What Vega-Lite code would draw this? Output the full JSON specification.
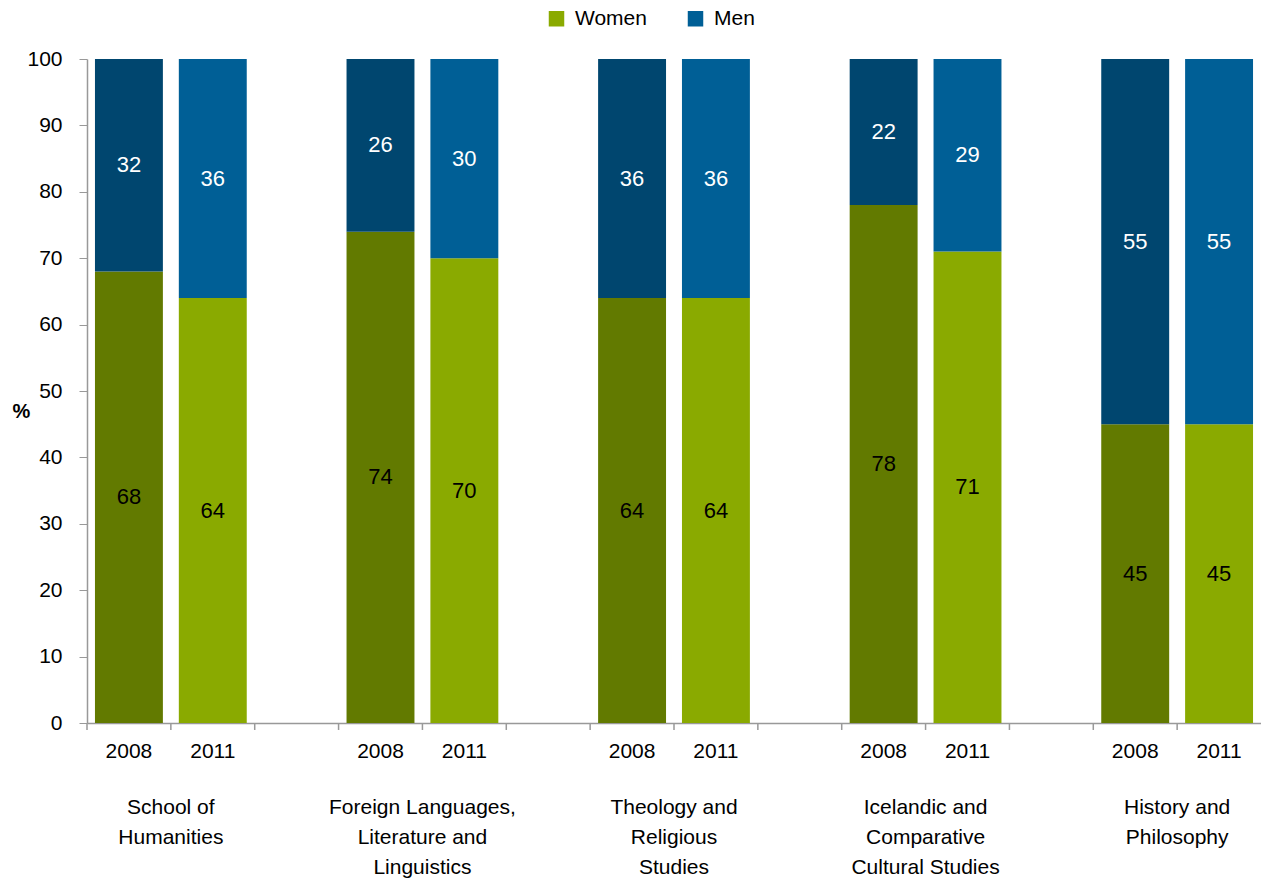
{
  "$schema": "https://vega.github.io/schema/vega-lite/v6.json",
  "width": 1174,
  "height": 664,
  "autosize": {"type": "none"},
  "padding": {"left": 87, "top": 59, "right": 0, "bottom": 160},
  "config": {
    "font": "Liberation Sans",
    "view": {"stroke": null}
  },
  "datasets": {
    "shares": [
      {"dept": "School of Humanities", "year": "2008", "slot": "School 2008", "sex": "Women", "series": "Women 2008", "pct": 68},
      {"dept": "School of Humanities", "year": "2008", "slot": "School 2008", "sex": "Men", "series": "Men 2008", "pct": 32},
      {"dept": "School of Humanities", "year": "2011", "slot": "School 2011", "sex": "Women", "series": "Women 2011", "pct": 64},
      {"dept": "School of Humanities", "year": "2011", "slot": "School 2011", "sex": "Men", "series": "Men 2011", "pct": 36},
      {"dept": "Foreign Languages, Literature and Linguistics", "year": "2008", "slot": "Foreign 2008", "sex": "Women", "series": "Women 2008", "pct": 74},
      {"dept": "Foreign Languages, Literature and Linguistics", "year": "2008", "slot": "Foreign 2008", "sex": "Men", "series": "Men 2008", "pct": 26},
      {"dept": "Foreign Languages, Literature and Linguistics", "year": "2011", "slot": "Foreign 2011", "sex": "Women", "series": "Women 2011", "pct": 70},
      {"dept": "Foreign Languages, Literature and Linguistics", "year": "2011", "slot": "Foreign 2011", "sex": "Men", "series": "Men 2011", "pct": 30},
      {"dept": "Theology and Religious Studies", "year": "2008", "slot": "Theology 2008", "sex": "Women", "series": "Women 2008", "pct": 64},
      {"dept": "Theology and Religious Studies", "year": "2008", "slot": "Theology 2008", "sex": "Men", "series": "Men 2008", "pct": 36},
      {"dept": "Theology and Religious Studies", "year": "2011", "slot": "Theology 2011", "sex": "Women", "series": "Women 2011", "pct": 64},
      {"dept": "Theology and Religious Studies", "year": "2011", "slot": "Theology 2011", "sex": "Men", "series": "Men 2011", "pct": 36},
      {"dept": "Icelandic and Comparative Cultural Studies", "year": "2008", "slot": "Icelandic 2008", "sex": "Women", "series": "Women 2008", "pct": 78},
      {"dept": "Icelandic and Comparative Cultural Studies", "year": "2008", "slot": "Icelandic 2008", "sex": "Men", "series": "Men 2008", "pct": 22},
      {"dept": "Icelandic and Comparative Cultural Studies", "year": "2011", "slot": "Icelandic 2011", "sex": "Women", "series": "Women 2011", "pct": 71},
      {"dept": "Icelandic and Comparative Cultural Studies", "year": "2011", "slot": "Icelandic 2011", "sex": "Men", "series": "Men 2011", "pct": 29},
      {"dept": "History and Philosophy", "year": "2008", "slot": "History 2008", "sex": "Women", "series": "Women 2008", "pct": 45},
      {"dept": "History and Philosophy", "year": "2008", "slot": "History 2008", "sex": "Men", "series": "Men 2008", "pct": 55},
      {"dept": "History and Philosophy", "year": "2011", "slot": "History 2011", "sex": "Women", "series": "Women 2011", "pct": 45},
      {"dept": "History and Philosophy", "year": "2011", "slot": "History 2011", "sex": "Men", "series": "Men 2011", "pct": 55}
    ],
    "depts": [
      {"slot": "School 2008", "label": "School of\nHumanities"},
      {"slot": "Foreign 2008", "label": "Foreign Languages,\nLiterature and\nLinguistics"},
      {"slot": "Theology 2008", "label": "Theology and\nReligious\nStudies"},
      {"slot": "Icelandic 2008", "label": "Icelandic and\nComparative\nCultural Studies"},
      {"slot": "History 2008", "label": "History and\nPhilosophy"}
    ],
    "slots": [
      {"slot": "School 2008"}, {"slot": "School 2011"}, {"slot": "gap1"},
      {"slot": "Foreign 2008"}, {"slot": "Foreign 2011"}, {"slot": "gap2"},
      {"slot": "Theology 2008"}, {"slot": "Theology 2011"}, {"slot": "gap3"},
      {"slot": "Icelandic 2008"}, {"slot": "Icelandic 2011"}, {"slot": "gap4"},
      {"slot": "History 2008"}, {"slot": "History 2011"}
    ]
  },
  "layer": [
    {
      "data": {"name": "shares"},
      "mark": {"type": "bar", "width": {"band": 0.81}},
      "encoding": {
        "x": {
          "field": "slot",
          "type": "nominal",
          "sort": null,
          "scale": {
            "domain": ["School 2008", "School 2011", "gap1", "Foreign 2008", "Foreign 2011", "gap2", "Theology 2008", "Theology 2011", "gap3", "Icelandic 2008", "Icelandic 2011", "gap4", "History 2008", "History 2011"],
            "paddingInner": 0,
            "paddingOuter": 0
          },
          "axis": {
            "title": null,
            "labelExpr": "indexof(datum.value, 'gap') >= 0 ? '' : slice(datum.value, -4)",
            "labelAngle": 0,
            "ticks": false,
            "domainColor": "#999999",
            "domainWidth": 1.5,
            "labelFontSize": 21,
            "labelColor": "#000000",
            "labelPadding": 17
          }
        },
        "y": {
          "field": "pct",
          "type": "quantitative",
          "stack": "zero",
          "scale": {"domain": [0, 100]},
          "axis": {
            "values": [0, 10, 20, 30, 40, 50, 60, 70, 80, 90, 100],
            "grid": false,
            "tickSize": 8,
            "tickColor": "#999999",
            "domainColor": "#999999",
            "domainWidth": 1.5,
            "labelFontSize": 21,
            "labelColor": "#000000",
            "labelPadding": 17,
            "title": "%",
            "titleAngle": 0,
            "titleFontSize": 20,
            "titleFontWeight": "bold",
            "titleColor": "#000000",
            "titleX": -66,
            "titleY": 352,
            "titleAlign": "center",
            "titleBaseline": "middle"
          }
        },
        "color": {
          "field": "series",
          "type": "nominal",
          "scale": {
            "domain": ["Women 2008", "Women 2011", "Men 2008", "Men 2011"],
            "range": ["#627A00", "#8AAA00", "#00466F", "#005F96"]
          },
          "legend": {
            "values": ["Women 2011", "Men 2011"],
            "labelExpr": "split(datum.value, ' ')[0]",
            "title": null,
            "orient": "none",
            "legendX": 459,
            "legendY": -51,
            "direction": "horizontal",
            "symbolType": "square",
            "symbolSize": 240,
            "symbolStrokeWidth": 0,
            "labelFontSize": 21,
            "labelColor": "#000000",
            "labelOffset": 8,
            "columnPadding": 38
          }
        },
        "order": {"field": "sex", "sort": "descending"}
      }
    },
    {
      "data": {"name": "slots"},
      "mark": {"type": "rule", "color": "#999999", "strokeWidth": 1.5},
      "encoding": {
        "x": {"field": "slot", "type": "nominal", "sort": null, "bandPosition": 0},
        "y": {"datum": 0, "type": "quantitative"},
        "y2": {"datum": -1.05}
      }
    },
    {
      "data": {"name": "shares"},
      "transform": [
        {"stack": "pct", "groupby": ["slot"], "sort": [{"field": "sex", "order": "descending"}], "as": ["y0", "y1"]},
        {"calculate": "(datum.y0 + datum.y1) / 2", "as": "mid"}
      ],
      "mark": {"type": "text", "fontSize": 22, "baseline": "middle", "align": "center"},
      "encoding": {
        "x": {"field": "slot", "type": "nominal", "sort": null},
        "y": {"field": "mid", "type": "quantitative"},
        "text": {"field": "pct", "type": "quantitative"},
        "color": {"condition": {"test": "datum.sex == 'Men'", "value": "#ffffff"}, "value": "#000000"}
      }
    },
    {
      "data": {"name": "depts"},
      "mark": {"type": "text", "fontSize": 21, "lineHeight": 30, "baseline": "top", "align": "center", "lineBreak": "\n", "color": "#000000"},
      "encoding": {
        "x": {"field": "slot", "type": "nominal", "sort": null, "bandPosition": 1},
        "y": {"datum": -11.2, "type": "quantitative"},
        "text": {"field": "label", "type": "nominal"}
      }
    }
  ]
}
